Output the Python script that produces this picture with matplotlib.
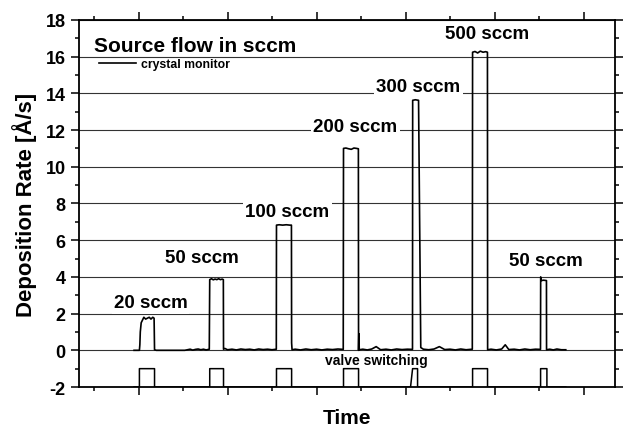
import matplotlib.pyplot as plt
from matplotlib.ticker import MultipleLocator

plt.rcParams['font.family'] = ['Liberation Sans', 'DejaVu Sans']
plt.rcParams['font.weight'] = 'bold'
plt.rcParams['axes.unicode_minus'] = False

# crystal monitor trace (time in arbitrary units, rate in A/s)
rate_t = [95, 101, 101.5, 102, 103, 104, 106, 108, 110, 112, 114, 116, 117.5, 118, 120,
          152, 155, 158, 161, 164, 167, 170, 173, 176, 179.5,
          180, 182, 184, 186, 188, 190, 192, 194, 195.3,
          195.5, 197, 200, 205, 210, 215, 220, 225, 230, 235, 240, 245, 250, 254.8,
          255, 258, 262, 266, 270, 271.8,
          272, 272.5, 276, 282, 288, 294, 300, 306, 312, 318, 324, 330,
          330.3, 333, 336, 339, 342, 345, 347,
          347.2, 347.5, 348, 352, 357, 362, 367, 372, 378, 384, 390, 396, 402, 407.8,
          408, 411, 414.6, 416.9, 417.1, 420, 426, 432, 438, 444, 450, 456, 462, 468, 475,
          475.3, 478, 481, 484, 487, 490, 492,
          492.2, 496, 502, 508, 512, 516, 522, 528, 534, 540, 546, 551.6,
          551.8, 552.5, 555, 558.3,
          558.4, 562, 566, 570, 575, 580]
rate_y = [0, 0, 0.3, 1.0, 1.5, 1.6, 1.8, 1.7, 1.75, 1.8, 1.7, 1.8, 1.75, 0.03, 0,
          0, 0.03, 0.06, 0.01, 0.05, 0.07, 0.03, 0.06, 0.02, 0.06,
          3.85, 3.9, 3.84, 3.88, 3.85, 3.9, 3.85, 3.88, 3.85,
          0.06, 0.1, 0.03, 0.06, 0.02, 0.07, 0.04, 0.06, 0.02, 0.07, 0.04, 0.06, 0.03, 0.06,
          6.82, 6.84, 6.82, 6.84, 6.82, 6.82,
          0.4, 0.03, 0.06, 0.02, 0.07, 0.03, 0.06, 0.02, 0.06, 0.04, 0.07, 0.05,
          11.0, 11.02, 10.98, 10.95, 11.02, 11.0, 10.98,
          0, 0.9, 0.03, 0.06, 0.02, 0.07, 0.2, 0.03, 0.06, 0.02, 0.07, 0.04, 0.06, 0.05,
          13.62, 13.65, 13.62, 1.2, 0.15, 0.06, 0.03, 0.07, 0.2, 0.04, 0.06, 0.02, 0.07, 0.03, 0.06,
          16.24, 16.28, 16.2, 16.3, 16.24, 16.27, 16.24,
          0.03, 0.06, 0.02, 0.07, 0.3, 0.04, 0.06, 0.02, 0.07, 0.03, 0.06, 0.05,
          4.0, 3.8, 3.82, 3.8,
          0.03, 0.06, 0.02, 0.07, 0.03, 0.03]

# valve switching trace
valve_t = [95, 101, 101, 118, 118, 180, 180, 195.5, 195.5, 255, 255, 272, 272,
           330.3, 330.3, 347.2, 347.2, 405.6, 407.9, 413.5, 413.5, 475.3, 475.3,
           492.1, 492.1, 551.7, 551.7, 558.8, 558.8, 580]
valve_y = [-2, -2, -1, -1, -2, -2, -1, -1, -2, -2, -1, -1, -2,
           -2, -1, -1, -2, -2, -1, -1, -2, -2, -1,
           -1, -2, -2, -1, -1, -2, -2]

flow_labels = ['20 sccm', '50 sccm', '100 sccm', '200 sccm', '300 sccm', '500 sccm', '50 sccm']
label_t = [113.5, 170.8, 267.4, 343.8, 414.6, 492.1, 557.3]
label_y = [2.58, 5.03, 7.54, 12.17, 14.35, 17.24, 4.92]

fig = plt.figure(figsize=(6.26, 4.27), dpi=100)
ax = fig.add_axes([0.126, 0.0913, 0.856, 0.8597])

ax.plot(rate_t, rate_y, color='k', lw=1.2, label='crystal monitor', zorder=3)
ax.plot(valve_t, valve_y, color='k', lw=1.1, zorder=3)

for lab, t, y in zip(flow_labels, label_t, label_y):
    ax.text(t, y, lab, ha='center', va='center', fontsize=13.5, fontweight='bold',
            bbox=dict(facecolor='white', edgecolor='none', pad=1.5), zorder=4)

ax.text(0.028, 0.93, 'Source flow in sccm', transform=ax.transAxes, fontsize=15,
        fontweight='bold', va='center', ha='left', zorder=4)
ax.text(367, -0.53, 'valve switching', ha='center', va='center', fontsize=10,
        fontweight='bold', zorder=4)

ax.legend(loc='upper left', bbox_to_anchor=(0.038, 0.895), frameon=False,
          borderaxespad=0, borderpad=0, handlelength=3.0, handletextpad=0.45,
          prop={'size': 8.8, 'weight': 'bold'})

ax.set_xlim(33, 635)
ax.set_ylim(-2, 18)
ax.xaxis.set_major_locator(MultipleLocator(100))
ax.xaxis.set_minor_locator(MultipleLocator(50))
ax.yaxis.set_major_locator(MultipleLocator(2))
ax.yaxis.set_minor_locator(MultipleLocator(1))
ax.set_xticklabels([])
ax.yaxis.grid(True, which='major', color='#333333', lw=0.8, zorder=1)
ax.set_axisbelow(True)

ax.tick_params(which='both', direction='out', top=True, right=True, width=1.1,
               labelsize=13, labelbottom=False)
ax.tick_params(which='major', length=6)
ax.tick_params(which='minor', length=3)
for lab in ax.get_yticklabels():
    lab.set_fontweight('bold')
for s in ax.spines.values():
    s.set_linewidth(1.3)

ax.set_ylabel('Deposition Rate [Å/s]', fontsize=16, fontweight='bold', labelpad=6)
ax.set_xlabel('Time', fontsize=15, fontweight='bold', labelpad=9)

fig.savefig('out.png', dpi=100)
